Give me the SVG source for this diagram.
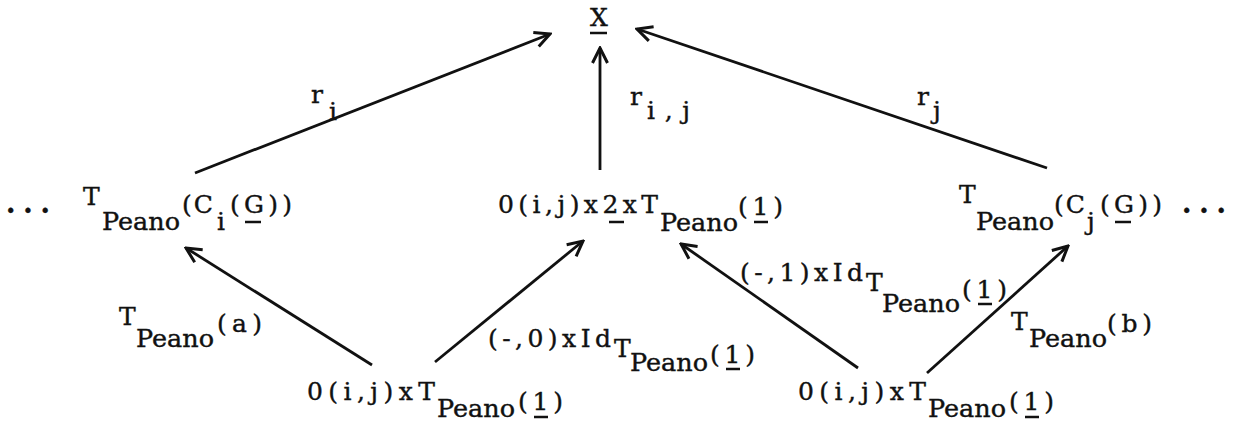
<svg xmlns="http://www.w3.org/2000/svg" width="1237" height="423" viewBox="0 0 1237 423">
<style>
text{font-family:"DejaVu Serif","Liberation Serif",serif;font-size:25px;fill:#111;stroke:#111;stroke-width:0.4}
.ul{stroke:#111;stroke-width:2.5}
.dots{font-weight:bold;font-size:27px}
.edge{stroke:#111;stroke-width:2.8;fill:none;marker-end:url(#ah)}
</style>
<defs>
<marker id="ah" markerUnits="userSpaceOnUse" viewBox="-18 -10 20 20" refX="0" refY="0" markerWidth="20" markerHeight="20" orient="auto">
<path d="M-15,-7.5 L0,0 L-15,7.5" fill="none" stroke="#111" stroke-width="3"/>
</marker>
</defs>
<rect width="1237" height="423" fill="#fff"/>
<g id="connectors">
<line class="edge" x1="195" y1="173" x2="550" y2="34"/>
<line class="edge" x1="600" y1="170" x2="600" y2="48"/>
<line class="edge" x1="1047" y1="168" x2="637" y2="29"/>
<line class="edge" x1="372" y1="365" x2="186" y2="248"/>
<line class="edge" x1="435" y1="362" x2="583" y2="241"/>
<line class="edge" x1="858" y1="368" x2="681" y2="244"/>
<line class="edge" x1="927" y1="373" x2="1068" y2="246"/>
<g id="label-ri"><text x="311" y="103">r</text><text x="329" y="120">i</text></g>
<g id="label-rij"><text x="630" y="105">r</text><text x="647" y="119" textLength="43" lengthAdjust="spacing">i,j</text></g>
<g id="label-rj"><text x="917" y="105">r</text><text x="933" y="119">j</text></g>
<g id="label-a"><text x="119" y="325">T</text><text x="136" y="347" textLength="78" lengthAdjust="spacingAndGlyphs">Peano</text><text x="217" y="332" textLength="45" lengthAdjust="spacing">(a)</text></g>
<g id="label-b"><text x="1011" y="330">T</text><text x="1029" y="347" textLength="78" lengthAdjust="spacingAndGlyphs">Peano</text><text x="1107" y="332" textLength="45" lengthAdjust="spacing">(b)</text></g>
<g id="label-m0"><text x="488" y="347" textLength="123" lengthAdjust="spacing">(-,0)xId</text><text x="614" y="357">T</text><text x="630" y="371" textLength="78" lengthAdjust="spacingAndGlyphs">Peano</text><text x="710" y="363" textLength="45" lengthAdjust="spacing">(1)</text><line class="ul" x1="726" y1="369" x2="740" y2="369"/></g>
<g id="label-m1"><text x="740" y="281" textLength="123" lengthAdjust="spacing">(-,1)xId</text><text x="866" y="291">T</text><text x="882" y="312" textLength="78" lengthAdjust="spacingAndGlyphs">Peano</text><text x="962" y="298" textLength="45" lengthAdjust="spacing">(1)</text><line class="ul" x1="978" y1="304" x2="992" y2="304"/></g>
</g>
<g id="node-X"><text x="590" y="26">X</text><line class="ul" x1="590" y1="33" x2="607" y2="33"/></g>
<g id="node-left"><text class="dots" x="6" y="213" textLength="44" lengthAdjust="spacing">...</text><text x="83" y="205">T</text><text x="102" y="230" textLength="78" lengthAdjust="spacingAndGlyphs">Peano</text><text x="182" y="213" textLength="31" lengthAdjust="spacing">(C</text><text x="217" y="230">i</text><text x="230" y="213" textLength="62" lengthAdjust="spacing">(G))</text><line class="ul" x1="245" y1="222" x2="261" y2="222"/></g>
<g id="node-middle"><text x="498" y="213" textLength="160" lengthAdjust="spacing">0(i,j)x2xT</text><line class="ul" x1="609" y1="222" x2="624" y2="222"/><text x="660" y="231" textLength="78" lengthAdjust="spacingAndGlyphs">Peano</text><text x="738" y="215" textLength="45" lengthAdjust="spacing">(1)</text><line class="ul" x1="754" y1="222" x2="768" y2="222"/></g>
<g id="node-right"><text x="959" y="203">T</text><text x="976" y="230" textLength="78" lengthAdjust="spacingAndGlyphs">Peano</text><text x="1054" y="213" textLength="31" lengthAdjust="spacing">(C</text><text x="1087" y="230">j</text><text x="1100" y="213" textLength="62" lengthAdjust="spacing">(G))</text><line class="ul" x1="1115" y1="222" x2="1131" y2="222"/><text class="dots" x="1182" y="213" textLength="44" lengthAdjust="spacing">...</text></g>
<g id="node-bl"><text x="307" y="400" textLength="128" lengthAdjust="spacing">0(i,j)xT</text><text x="437" y="417" textLength="78" lengthAdjust="spacingAndGlyphs">Peano</text><text x="518" y="410" textLength="45" lengthAdjust="spacing">(1)</text><line class="ul" x1="534" y1="417" x2="548" y2="417"/></g>
<g id="node-br"><text x="798" y="400" textLength="128" lengthAdjust="spacing">0(i,j)xT</text><text x="928" y="417" textLength="78" lengthAdjust="spacingAndGlyphs">Peano</text><text x="1009" y="410" textLength="45" lengthAdjust="spacing">(1)</text><line class="ul" x1="1025" y1="417" x2="1039" y2="417"/></g>
</svg>
